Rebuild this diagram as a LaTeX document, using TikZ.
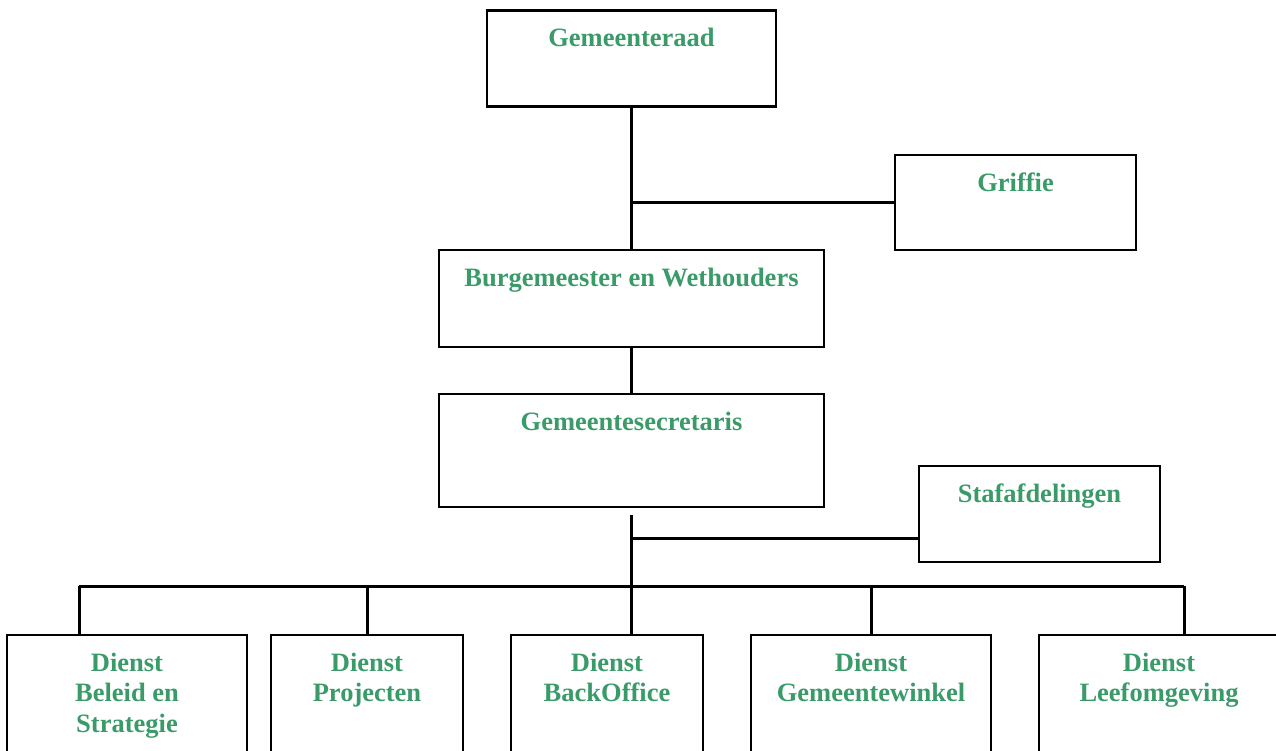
\documentclass[tikz,border=0pt]{standalone}
\usepackage{fontspec}
\setmainfont{Liberation Serif}
\definecolor{orggreen}{RGB}{58,155,105}
\tikzset{
  orgbox/.style n args={2}{draw, rectangle, line width=2.8pt, inner sep=0pt,
    minimum width=#1, minimum height=#2},
  orgtext/.style={anchor=north, inner sep=0pt, yshift=-19pt, align=center,
    text=orggreen, font=\fontsize{26.5}{30.5}\selectfont\bfseries},
  orgline/.style={line width=3pt}
}
\begin{document}
\begin{tikzpicture}[x=1pt, y=-1pt]
        \useasboundingbox (0,0) rectangle (1276,751);
        \clip (0,0) rectangle (1276,751);

        % Top of the organisation
        \node[orgbox={289}{96}, label={[orgtext]north:Gemeenteraad}] (raad) at (631.5,58.5) {};
        \node[orgbox={241}{95}, label={[orgtext]north:Griffie}] (griffie) at (1015.5,202.5) {};
        \node[orgbox={385}{97}, label={[orgtext]north:Burgemeester en Wethouders}] (bw) at (631.5,298.5) {};
        \node[orgbox={385}{113}, label={[orgtext]north:Gemeentesecretaris}] (secr) at (631.5,450.5) {};
        \node[orgbox={241}{96}, label={[orgtext]north:Stafafdelingen}] (staf) at (1039.5,514) {};

        % Diensten
        \node[orgbox={240}{155}, label={[orgtext]north:Dienst\\Beleid en\\Strategie}] (beleid) at (127,712.5) {};
        \node[orgbox={192}{155}, label={[orgtext]north:Dienst\\Projecten}] (projecten) at (367,712.5) {};
        \node[orgbox={192}{155}, label={[orgtext]north:Dienst\\BackOffice}] (backoffice) at (607,712.5) {};
        \node[orgbox={240}{155}, label={[orgtext]north:Dienst\\Gemeentewinkel}] (winkel) at (871,712.5) {};
        \node[orgbox={240}{155}, label={[orgtext]north:Dienst\\Leefomgeving}] (leef) at (1159,712.5) {};

        % Lines between the boxes
        \draw[orgline] (raad.south) -- (bw.north);
        \draw[orgline] (griffie.west) -- (griffie.west -| raad.south);
        \draw[orgline] (bw.south) -- (secr.north);

        \coordinate (hub) at ([yshift=-7pt]secr.south);
        \coordinate (stafjoin) at (631.5,538);
        \coordinate (t1) at (79,586);
        \coordinate (t2) at (367,586);
        \coordinate (t3) at (631.5,586);
        \coordinate (t4) at (871,586);
        \coordinate (t5) at (1184,586);

        \draw[orgline] (hub) -- (t3 |- backoffice.north);
        \draw[orgline] (stafjoin) -- (stafjoin -| staf.west);
        \draw[orgline] (t1) -- (t5);
        \draw[orgline] (t1) -- (t1 |- beleid.north);
        \draw[orgline] (t2) -- (t2 |- projecten.north);
        \draw[orgline] (t4) -- (t4 |- winkel.north);
        \draw[orgline] (t5) -- (t5 |- leef.north);
      \end{tikzpicture}
\end{document}
